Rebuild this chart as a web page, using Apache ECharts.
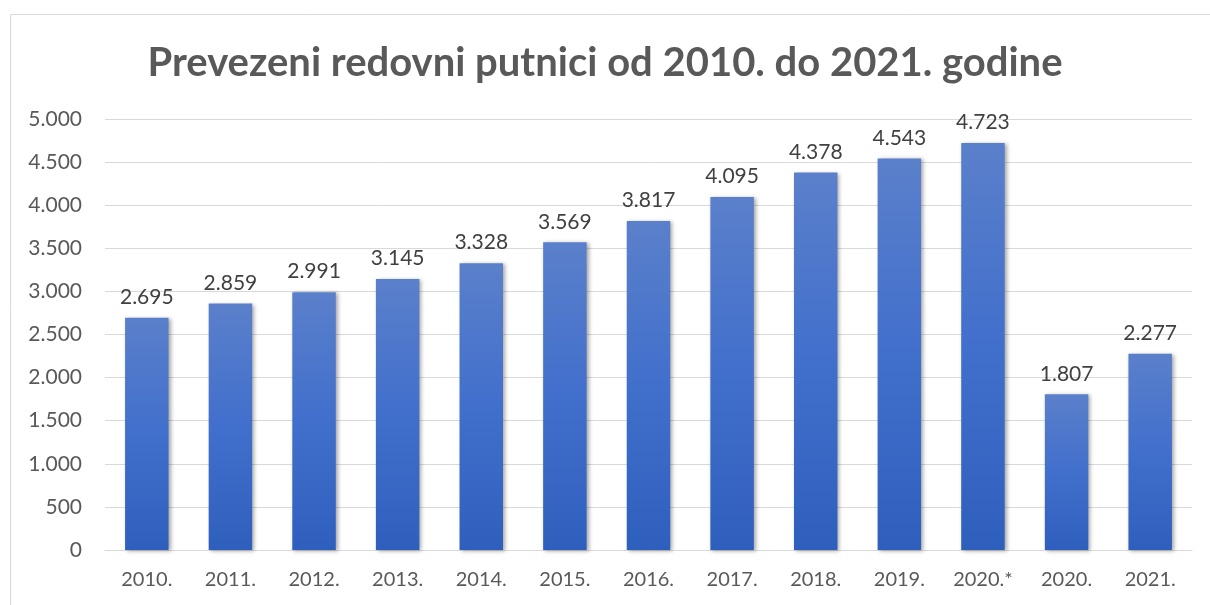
<!DOCTYPE html>
<html><head><meta charset="utf-8">
<script src="https://cdn.jsdelivr.net/npm/echarts@6/dist/echarts.min.js"></script>
<style>html,body{margin:0;padding:0;background:#fff}#c{width:1210px;height:605px}</style>
</head><body><div id="c"></div>
<script>
const titleText = 'Prevezeni redovni putnici od 2010. do 2021. godine';
const categories = ['2010.','2011.','2012.','2013.','2014.','2015.','2016.','2017.','2018.','2019.','2020.*','2020.','2021.'];
const passengers = [2695, 2859, 2991, 3145, 3328, 3569, 3817, 4095, 4378, 4543, 4723, 1807, 2277];

function fmt(v){ return String(v).replace(/\B(?=(\d{3})+(?!\d))/g, '.'); }
const FONT = 'Lato, "Open Sans", sans-serif';
const chart = echarts.init(document.getElementById('c'));
chart.setOption({
  animation:false,
  graphic:[{type:'rect', shape:{x:10.5,y:14.5,width:1220,height:620}, style:{fill:'none', stroke:'#d9d9d9', lineWidth:1}, silent:true}],
  title:{text:titleText, left:'center', top:38, textStyle:{fontFamily:FONT, fontSize:40, fontWeight:'bold', color:'#595959'}},
  grid:{left:105, right:18, top:119, bottom:55},
  xAxis:{type:'category', data:categories, axisTick:{show:false},
    axisLine:{lineStyle:{color:'#d9d9d9', width:1}},
    axisLabel:{fontFamily:FONT, fontSize:20, color:'#595959', margin:20}},
  yAxis:{type:'value', min:0, max:5000, interval:500,
    axisLabel:{fontFamily:FONT, fontSize:21, color:'#595959', margin:23, formatter:fmt},
    splitLine:{lineStyle:{color:'#d9d9d9', width:1}}},
  series:[{type:'bar', data:passengers, barWidth:'52%',
    itemStyle:{color:new echarts.graphic.LinearGradient(0,0,0,1,[{offset:0,color:'#5b80cb'},{offset:0.5,color:'#416fcc'},{offset:1,color:'#2f5fbd'}]),
      shadowColor:'rgba(0,0,0,0.35)', shadowBlur:4, shadowOffsetX:2, shadowOffsetY:1},
    label:{show:true, position:'top', distance:10, fontFamily:FONT, fontSize:21, color:'#404040', formatter:p=>fmt(p.value)}}]
});
</script></body></html>
